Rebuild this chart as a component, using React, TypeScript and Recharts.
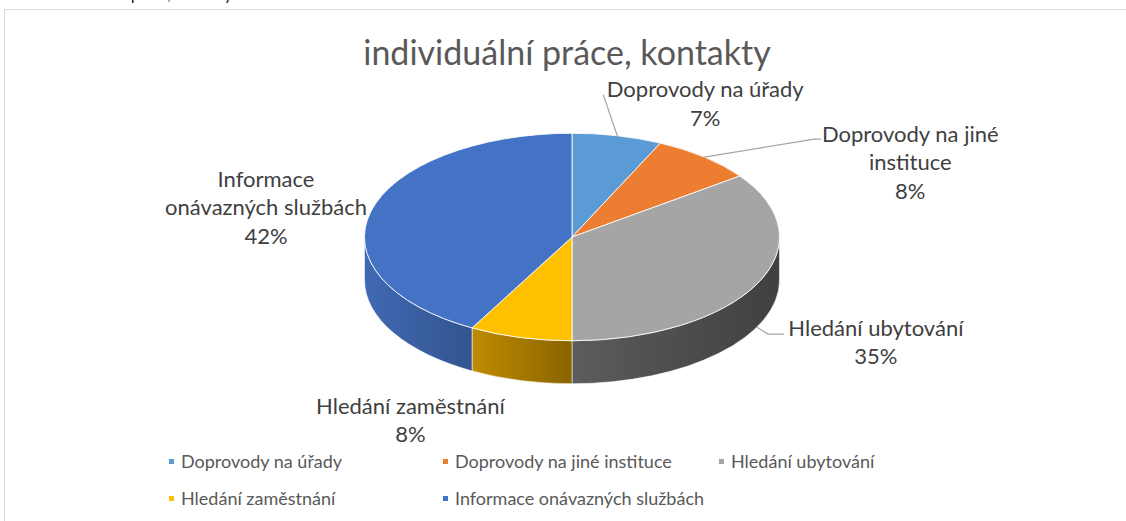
import React from "react";
import { PieChart, Pie, Cell, Legend } from "recharts";

const categories = [
  "Doprovody na úřady",
  "Doprovody na jiné instituce",
  "Hledání ubytování",
  "Hledání zaměstnání",
  "Informace onávazných službách",
];
const shares = [7, 8, 35, 8, 42];
const labelLines = [
  ["Doprovody na úřady"],
  ["Doprovody na jiné", "instituce"],
  ["Hledání ubytování"],
  ["Hledání zaměstnání"],
  ["Informace", "onávazných službách"],
];

const COLORS = ["#5B9BD5", "#ED7D31", "#A5A5A5", "#FFC000", "#4472C4"];
const SIDE_COLORS = [
  ["#4A7EAE", "#3E6A93"],
  ["#C0651F", "#9E521A"],
  ["#5C5C5C", "#404040"],
  ["#BE8C00", "#8A6300"],
  ["#4169B3", "#32548F"],
];

// label placement relative to the slice anchor (dx, dy of first line centre)
const LABEL_OFFSETS = [
  [88, -47],
  [206, -24],
  [119, 0],
  [-110, 25],
  [-105, -33],
];
// leader bend points relative to the label's first line centre
const LEADERS: (number[][] | null)[] = [
  [[-102, 6]],
  [[-96, 6], [-89, 6]],
  [[-108, 7], [-92, 7]],
  null,
  null,
];

const CX = 572;
const CY = 237;
const RX = 207.5;
const TILT = 0.5;
const DEPTH = 43;
const FONT = "Lato, 'Open Sans', sans-serif";
const LINE_H = 28.5;

const data = categories.map((name, i) => ({ name, value: shares[i] }));

// theta: degrees clockwise from 12 o'clock
function pt(cx: number, cy: number, rx: number, theta: number, dy = 0) {
  const r = (theta * Math.PI) / 180;
  return [cx + rx * Math.sin(r), cy - rx * TILT * Math.cos(r) + dy];
}

function Slice(props: any) {
  const { cx, cy, outerRadius, startAngle, endAngle } = props;
  const name = props.name ?? props.payload?.name;
  const idx = categories.indexOf(name);
  const rx = outerRadius;
  const ry = rx * TILT;
  const t1 = 90 - Math.max(startAngle, endAngle);
  const t2 = 90 - Math.min(startAngle, endAngle);
  const a = pt(cx, cy, rx, t1);
  const b = pt(cx, cy, rx, t2);
  const large = t2 - t1 > 180 ? 1 : 0;
  const top = `M${cx},${cy} L${a[0]},${a[1]} A${rx},${ry} 0 ${large} 1 ${b[0]},${b[1]} Z`;

  const f1 = Math.max(t1, 90);
  const f2 = Math.min(t2, 270);
  let side = null;
  if (f2 > f1) {
    const p1 = pt(cx, cy, rx, f1);
    const p2 = pt(cx, cy, rx, f2);
    const gid = `side-${idx}`;
    const d = `M${p1[0]},${p1[1]} A${rx},${ry} 0 0 1 ${p2[0]},${p2[1]} L${p2[0]},${p2[1] + DEPTH} A${rx},${ry} 0 0 0 ${p1[0]},${p1[1] + DEPTH} Z`;
    side = (
      <g>
        <defs>
          <linearGradient id={gid} x1="0" y1="0" x2="1" y2="0">
            <stop offset="0%" stopColor={SIDE_COLORS[idx][0]} />
            <stop offset="100%" stopColor={SIDE_COLORS[idx][1]} />
          </linearGradient>
        </defs>
        <path d={d} fill={`url(#${gid})`} stroke="rgba(255,255,255,0.55)" strokeWidth={1} />
      </g>
    );
  }
  return (
    <g>
      {side}
      <path d={top} fill={COLORS[idx]} stroke="rgba(255,255,255,0.85)" strokeWidth={1} />
    </g>
  );
}

function renderLabel(props: any) {
  const { cx, cy, midAngle, outerRadius, percent, index } = props;
  const theta = (((90 - midAngle) % 360) + 360) % 360;
  const front = theta > 90 && theta < 270;
  const anchor = pt(cx, cy, outerRadius, theta, front ? DEPTH : 0);
  const lines = [...labelLines[index], `${Math.round(percent * 100)}%`];
  const lx = anchor[0] + LABEL_OFFSETS[index][0];
  const ly = anchor[1] + LABEL_OFFSETS[index][1];
  const bends = LEADERS[index];
  let leader = null;
  if (bends) {
    const pts = [anchor, ...bends.map((b) => [lx + b[0], ly + b[1]])];
    leader = (
      <polyline
        points={pts.map((p) => p.join(",")).join(" ")}
        fill="none"
        stroke="#A6A6A6"
        strokeWidth={1.2}
      />
    );
  }
  return (
    <g key={`lbl-${index}`}>
      {leader}
      {lines.map((t, i) => (
        <text
          key={i}
          x={lx}
          y={ly + i * LINE_H}
          textAnchor="middle"
          dominantBaseline="central"
          fontSize={22}
          fontFamily={FONT}
          fill="#404040"
        >
          {t}
        </text>
      ))}
    </g>
  );
}

function LegendContent(props: any) {
  const raw = props.payload?.length
    ? props.payload.map((p: any) => ({ name: p.value, color: p.color }))
    : categories.map((c, i) => ({ name: c, color: COLORS[i] }));
  const items = [...raw].sort(
    (a: any, b: any) => categories.indexOf(a.name) - categories.indexOf(b.name)
  );
  return (
    <div
      style={{
        display: "grid",
        gridTemplateColumns: "274px 276px auto",
        rowGap: 15,
        fontFamily: FONT,
        fontSize: 18,
        color: "#595959",
      }}
    >
      {items.map((it: any, i: number) => (
        <div key={it.name} style={{ display: "flex", alignItems: "center", height: 22 }}>
          <span style={{ width: 5, height: 5, background: it.color ?? COLORS[i], marginRight: 7 }} />
          <span>{it.name}</span>
        </div>
      ))}
    </div>
  );
}

export default function App() {
  return (
    <div style={{ position: "relative", width: 1126, height: 521, overflow: "hidden", background: "#fff" }}>
      <style>{"body{margin:0}"}</style>
      <div
        style={{
          position: "absolute",
          left: 0,
          top: -13.5,
          width: 232,
          textAlign: "right",
          fontFamily: FONT,
          fontSize: 15,
          lineHeight: "15px",
          color: "#000",
          whiteSpace: "nowrap",
        }}
      >
        individuální práce, kontakty
      </div>
      <div
        style={{
          position: "absolute",
          left: 4,
          top: 9,
          width: 1130,
          height: 530,
          border: "1px solid #d9d9d9",
          boxSizing: "border-box",
        }}
      />
      <div
        style={{
          position: "absolute",
          left: 0,
          top: 31,
          width: 1126,
          textAlign: "center",
          paddingLeft: 8,
          boxSizing: "border-box",
          fontFamily: FONT,
          fontSize: 34,
          color: "#595959",
        }}
      >
        individuální práce, kontakty
      </div>
      <div style={{ position: "absolute", left: 0, top: 0 }}>
        <PieChart width={1126} height={521} margin={{ top: 0, right: 0, bottom: 0, left: 0 }}>
          <Pie
            data={data}
            dataKey="value"
            nameKey="name"
            cx={CX}
            cy={CY}
            outerRadius={RX}
            startAngle={90}
            endAngle={-270}
            stroke="none"
            shape={Slice}
            activeShape={Slice}
            inactiveShape={Slice}
            label={renderLabel}
            labelLine={false}
            isAnimationActive={false}
          >
            {data.map((d, i) => (
              <Cell key={d.name} fill={COLORS[i]} />
            ))}
          </Pie>
          <Legend
            content={<LegendContent />}
            wrapperStyle={{ position: "absolute", left: 169, top: 450, width: 800, height: 70 }}
          />
        </PieChart>
      </div>
    </div>
  );
}
